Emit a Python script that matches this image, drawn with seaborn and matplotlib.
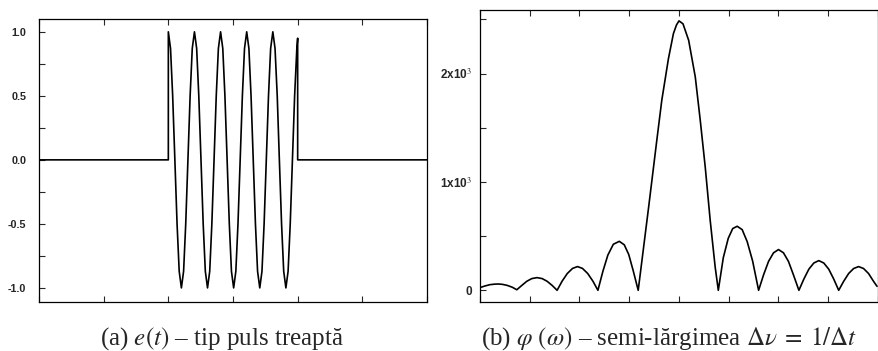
import matplotlib
matplotlib.use('Agg')
import matplotlib.pyplot as plt
import matplotlib.ticker as mticker
import pandas as pd
import seaborn as sns

# (a) step pulse e(t): zero outside, cosine burst between t=2 and t=4
t_vals = [0.0, 2.0,
          2.000, 2.034, 2.067, 2.101, 2.135, 2.168, 2.202, 2.236, 2.269, 2.303, 2.337, 2.370,
          2.404, 2.438, 2.471, 2.505, 2.539, 2.572, 2.606, 2.640, 2.673, 2.707, 2.741, 2.774,
          2.808, 2.842, 2.875, 2.909, 2.943, 2.976, 3.010, 3.044, 3.077, 3.111, 3.145, 3.178,
          3.212, 3.246, 3.279, 3.313, 3.347, 3.380, 3.414, 3.448, 3.481, 3.515, 3.549, 3.582,
          3.616, 3.650, 3.684, 3.717, 3.751, 3.784, 3.818, 3.852, 3.885, 3.919, 3.953, 3.987,
          4.0, 4.0, 6.0]
e_vals = [0.0, 0.0,
          1.0, 0.87, 0.5, 0.0, -0.5, -0.87, -1.0, -0.87, -0.5, 0.0, 0.5, 0.87,
          1.0, 0.87, 0.5, 0.0, -0.5, -0.87, -1.0, -0.87, -0.5, 0.0, 0.5, 0.87,
          1.0, 0.87, 0.5, 0.0, -0.5, -0.87, -1.0, -0.87, -0.5, 0.0, 0.5, 0.87,
          1.0, 0.87, 0.5, 0.0, -0.5, -0.87, -1.0, -0.87, -0.5, 0.0, 0.5, 0.87,
          1.0, 0.87, 0.5, 0.0, -0.5, -0.87, -1.0, -0.87, -0.5, 0.0, 0.5, 0.87,
          0.95, 0.0, 0.0]

# (b) spectrum phi(omega)
omega = [-4.00, -3.90, -3.80, -3.70, -3.63, -3.55, -3.45, -3.35, -3.26,
         -3.16, -3.06, -2.96, -2.855, -2.75, -2.65, -2.55, -2.45,
         -2.35, -2.245, -2.14, -2.04, -1.94, -1.835, -1.73, -1.63,
         -1.53, -1.43, -1.32, -1.20, -1.10, -1.01, -0.92, -0.82,
         -0.61, -0.446, -0.346, -0.212, -0.112, -0.05, 0.0, 0.08, 0.194, 0.327, 0.427, 0.527, 0.627, 0.727, 0.79,
         0.89, 0.99, 1.08, 1.17, 1.27, 1.37, 1.48, 1.60,
         1.70, 1.80, 1.90, 2.00, 2.10, 2.20, 2.30, 2.41,
         2.51, 2.61, 2.71, 2.81, 2.91, 3.01, 3.11, 3.21,
         3.31, 3.41, 3.51, 3.61, 3.71, 3.81, 3.91, 3.98]
phi = [25, 40, 52, 57, 58, 55, 45, 28, 5,
       45, 83, 108, 117, 108, 83, 45, 0,
       84, 155, 202, 219, 202, 155, 84, 0,
       175, 325, 425, 452, 420, 330, 180, 0,
       769, 1385, 1754, 2139, 2370, 2450, 2487, 2460, 2308, 1970, 1570, 1139, 646, 215, 0,
       300, 480, 570, 591, 560, 450, 270, 0,
       143, 267, 346, 376, 346, 267, 143, 0,
       104, 195, 252, 274, 252, 195, 104, 0,
       83, 155, 201, 219, 201, 155, 83, 37]

left_yticks = [-1.0, -0.5, 0.0, 0.5, 1.0]
right_yticks = [0, 1000, 2000]
right_ylabels = ['0', '1x10$^{3}$', '2x10$^{3}$']

sns.set_style('ticks')
plt.rcParams['mathtext.fontset'] = 'stix'

df_a = pd.DataFrame({'t': t_vals, 'e': e_vals})
df_b = pd.DataFrame({'w': omega, 'phi': phi})

fig = plt.figure(figsize=(8.79, 3.51), dpi=100)
ax1 = fig.add_axes([39/879, 1-302/351, 388/879, 283/351])
ax2 = fig.add_axes([480/879, 1-302/351, 398/879, 292.5/351])

sns.lineplot(ax=ax1, data=df_a, x='t', y='e', sort=False, estimator=None, color='black', lw=1.2)
sns.lineplot(ax=ax2, data=df_b, x='w', y='phi', sort=False, estimator=None, color='black', lw=1.2)

ax1.set_xlim(0, 6)
ax1.set_ylim(-1.11, 1.10)
ax1.set_xticks(range(7))
ax1.set_yticks(left_yticks)
ax1.set_yticklabels(['%.1f' % v for v in left_yticks])
ax1.yaxis.set_minor_locator(mticker.MultipleLocator(0.25))

ax2.set_xlim(-4, 4)
ax2.set_ylim(-108, 2592)
ax2.set_xticks(range(-4, 5))
ax2.set_yticks(right_yticks)
ax2.set_yticklabels(right_ylabels)
ax2.yaxis.set_minor_locator(mticker.MultipleLocator(500))

for ax, fs in [(ax1, 7.8), (ax2, 8.5)]:
    ax.set_xlabel('')
    ax.set_ylabel('')
    ax.set_xticklabels([])
    for s in ax.spines.values():
        s.set_visible(True)
        s.set_linewidth(0.9)
        s.set_color('black')
    ax.tick_params(axis='x', which='both', direction='in', top=True, bottom=True, length=4, width=0.8)
    ax.tick_params(axis='y', which='both', direction='in', left=True, right=False, length=4, width=0.8)
    for lab in ax.get_yticklabels():
        lab.set_fontfamily('Liberation Sans')
        lab.set_fontweight('bold')
        lab.set_fontsize(fs)
ax1.tick_params(axis='y', which='major', pad=9)
ax2.tick_params(axis='y', which='major', pad=6)

fig.text(222/879, 1-339/351, '(a) $e(t)$ – tip puls treaptă', ha='center', va='center',
         fontsize=18, family='Liberation Serif')
fig.text(669/879, 1-339/351,
         r'(b) $\varphi\ (\omega)$ – semi-lărgimea $\Delta\nu\;=\;1/\Delta t$',
         ha='center', va='center', fontsize=18, family='Liberation Serif')

fig.savefig('out.png', dpi=100)
